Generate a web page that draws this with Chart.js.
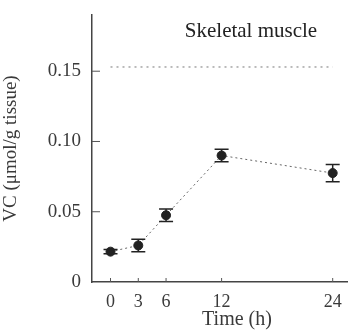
<!DOCTYPE html>
<html><head><meta charset="utf-8">
<script src="https://cdn.jsdelivr.net/npm/chart.js@4"></script>
<style>html,body{margin:0;padding:0;background:#fff;}#wrap{width:353px;height:332px;}</style>
</head><body><div id="wrap"><canvas id="c" width="353" height="332"></canvas></div>
<script>
const timeHours = [0, 3, 6, 12, 24];
const vcValues = [0.0216, 0.026, 0.0475, 0.090, 0.0775];
const vcErrors = [0.0015, 0.0045, 0.0045, 0.0045, 0.0062];
const xTickValues = [0, 3, 6, 12, 24];
const yTickValues = [0, 0.05, 0.10, 0.15];
const yTickLabels = ['0', '0.05', '0.10', '0.15'];
const referenceLevel = 0.153;
const titleText = 'Skeletal muscle';
const xAxisTitle = 'Time (h)';
const yAxisTitle = 'VC (μmol/g tissue)';

const serif = '"Liberation Serif", "DejaVu Serif", serif';
const ink = '#3a3a3a';

const extras = {
  id: 'extras',
  afterDatasetsDraw(chart) {
    const {ctx, scales: {x, y}, chartArea} = chart;
    ctx.save();
    // reference dotted line
    ctx.strokeStyle = '#777';
    ctx.lineWidth = 1;
    ctx.setLineDash([2, 4]);
    ctx.beginPath();
    ctx.moveTo(x.getPixelForValue(0), y.getPixelForValue(referenceLevel));
    ctx.lineTo(x.getPixelForValue(24), y.getPixelForValue(referenceLevel));
    ctx.stroke();
    ctx.setLineDash([]);
    // error bars
    ctx.strokeStyle = '#222';
    ctx.lineWidth = 1.5;
    timeHours.forEach((t, i) => {
      const px = x.getPixelForValue(t);
      const top = y.getPixelForValue(vcValues[i] + vcErrors[i]);
      const bot = y.getPixelForValue(vcValues[i] - vcErrors[i]);
      ctx.beginPath();
      ctx.moveTo(px, top); ctx.lineTo(px, bot);
      ctx.moveTo(px - 7, top); ctx.lineTo(px + 7, top);
      ctx.moveTo(px - 7, bot); ctx.lineTo(px + 7, bot);
      ctx.stroke();
    });
    // inward ticks
    ctx.strokeStyle = '#555';
    ctx.lineWidth = 1;
    yTickValues.forEach(v => {
      if (v === 0) return;
      const py = y.getPixelForValue(v);
      ctx.beginPath(); ctx.moveTo(chartArea.left, py); ctx.lineTo(chartArea.left + 8, py); ctx.stroke();
    });
    xTickValues.forEach(v => {
      const px = x.getPixelForValue(v);
      ctx.beginPath(); ctx.moveTo(px, chartArea.bottom); ctx.lineTo(px, chartArea.bottom - 4); ctx.stroke();
    });
    // title inside plot
    ctx.fillStyle = '#222';
    ctx.font = '21px ' + serif;
    ctx.textAlign = 'center';
    ctx.textBaseline = 'alphabetic';
    ctx.fillText(titleText, 251, 37);
    // x axis title
    ctx.fillStyle = ink;
    ctx.font = '20px ' + serif;
    ctx.textBaseline = 'middle';
    ctx.fillText(xAxisTitle, 237, 320);
    ctx.restore();
  }
};

new Chart(document.getElementById('c'), {
  type: 'scatter',
  data: {
    datasets: [{
      data: timeHours.map((t, i) => ({x: t, y: vcValues[i]})),
      showLine: true,
      borderColor: '#666',
      borderWidth: 1,
      borderDash: [2, 3],
      pointRadius: 4.5,
      pointBackgroundColor: '#222',
      pointBorderColor: '#222',
      pointHoverRadius: 4.5
    }]
  },
  options: {
    responsive: false,
    animation: false,
    devicePixelRatio: 1,
    layout: {padding: {top: 15, right: 3, left: 0, bottom: 0}},
    plugins: {legend: {display: false}, tooltip: {enabled: false}, title: {display: false}},
    scales: {
      x: {
        type: 'linear', min: -2, max: 25.6,
        afterBuildTicks: s => { s.ticks = xTickValues.map(v => ({value: v})); },
        afterFit: s => { s.height = 50; },
        grid: {display: false, drawTicks: false},
        border: {display: true, color: '#444', width: 1.5},
        ticks: {color: ink, font: {family: serif, size: 18}, padding: 9, maxRotation: 0, autoSkip: false,
          callback: v => String(v)},
        title: {display: false}
      },
      y: {
        min: 0, max: 0.19,
        afterBuildTicks: s => { s.ticks = yTickValues.map(v => ({value: v})); },
        afterFit: s => { s.width = 92; s.paddingTop = 0; s.paddingBottom = 0; },
        grid: {display: false, drawTicks: false},
        border: {display: true, color: '#444', width: 1.5},
        ticks: {color: ink, font: {family: serif, size: 19}, padding: 11, autoSkip: false,
          callback: (v) => { const i = yTickValues.indexOf(v); return i >= 0 ? yTickLabels[i] : ''; }},
        title: {display: true, text: yAxisTitle, color: ink, font: {family: serif, size: 19}, padding: {top: 0, bottom: 2}}
      }
    }
  },
  plugins: [extras]
});
</script></body></html>
